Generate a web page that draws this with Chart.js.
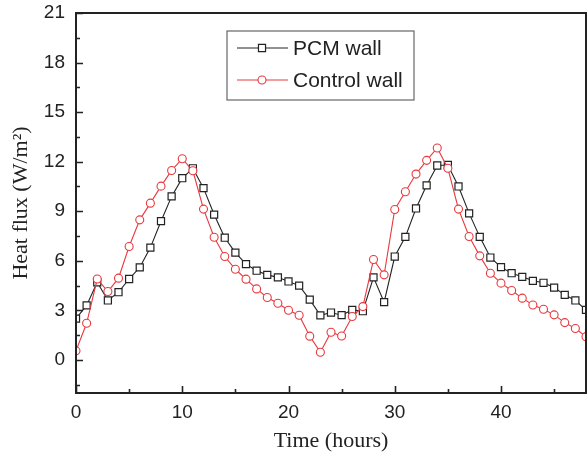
<!DOCTYPE html>
<html>
<head>
<meta charset="utf-8">
<script src="https://cdn.jsdelivr.net/npm/chart.js@4/dist/chart.umd.min.js"></script>
<style>
  html, body { margin: 0; padding: 0; background: #fff; }
  #wrap { width: 587px; height: 457px; }
</style>
</head>
<body>
<div id="wrap"><canvas id="c" width="587" height="457"></canvas></div>
<script>
// Hourly heat flux through the two test walls
const hours = [0, 1, 2, 3, 4, 5, 6, 7, 8, 9, 10, 11, 12, 13, 14, 15, 16, 17, 18, 19, 20,
  21, 22, 23, 24, 25, 26, 27, 28, 29, 30, 31, 32, 33, 34, 35, 36, 37, 38, 39, 40,
  41, 42, 43, 44, 45, 46, 47, 48];
const pcmWall = [2.5, 3.3, 4.7, 3.6, 4.1, 4.9, 5.6, 6.8, 8.4, 9.9, 11.0, 11.6, 10.4, 8.8,
  7.4, 6.5, 5.8, 5.4, 5.15, 5.0, 4.75, 4.5, 3.65, 2.7, 2.87, 2.71, 3.03, 2.95, 5.0, 3.5,
  6.26, 7.45, 9.17, 10.57, 11.77, 11.8, 10.5, 8.87, 7.45, 6.2, 5.62, 5.25, 5.03, 4.79,
  4.67, 4.38, 3.94, 3.6, 3.03];
const controlWall = [0.55, 2.22, 4.9, 4.14, 4.95, 6.87, 8.48, 9.49, 10.52, 11.47, 12.18,
  11.45, 9.13, 7.43, 6.26, 5.49, 4.89, 4.3, 3.78, 3.43, 3.01, 2.71, 1.44, 0.47, 1.68, 1.45,
  2.63, 3.23, 6.08, 5.15, 9.11, 10.18, 11.25, 12.08, 12.83, 11.6, 9.13, 7.47, 6.3, 5.25,
  4.65, 4.2, 3.74, 3.33, 3.07, 2.73, 2.26, 1.9, 1.41];

const xMajorTicks = [0, 10, 20, 30, 40];
const xMinorTicks = [5, 15, 25, 35, 45];
const yMajorTicks = [0, 3, 6, 9, 12, 15, 18, 21];
const yMinorTicks = [-1.5, 1.5, 4.5, 7.5, 10.5, 13.5, 16.5, 19.5];

const seriesNames = ['PCM wall', 'Control wall'];

const SANS = "'Liberation Sans', Arial, sans-serif";
const SERIF = "'Liberation Serif', 'Times New Roman', serif";
const INK = '#222';
const RED = '#e8383d';

const toPoints = (ys) => hours.map((h, i) => ({ x: h, y: ys[i] }));

// Closed frame with inward major/minor tick marks
const framePlugin = {
  id: 'frame',
  afterDraw(chart) {
    const { ctx, chartArea: a, scales: { x, y } } = chart;
    ctx.save();
    ctx.strokeStyle = INK;
    ctx.lineWidth = 1.6;
    ctx.beginPath();
    const tick = (vals, len, horizontal) => {
      vals.forEach(v => {
        if (horizontal) {
          const px = Math.round(x.getPixelForValue(v)) + 0.5;
          ctx.moveTo(px, a.bottom); ctx.lineTo(px, a.bottom - len);
        } else {
          const py = Math.round(y.getPixelForValue(v)) + 0.5;
          ctx.moveTo(a.left, py); ctx.lineTo(a.left + len, py);
        }
      });
    };
    tick(xMajorTicks, 7, true);
    tick(xMinorTicks, 4, true);
    tick(yMajorTicks, 7, false);
    tick(yMinorTicks, 4, false);
    ctx.stroke();
    ctx.lineWidth = 2;
    ctx.strokeRect(a.left, a.top, a.right - a.left, a.bottom - a.top);
    ctx.restore();
  }
};

// Boxed legend placed inside the plot
const legendPlugin = {
  id: 'boxLegend',
  afterDraw(chart) {
    const { ctx } = chart;
    const box = { x: 227, y: 31, w: 187, h: 69 };
    ctx.save();
    ctx.strokeStyle = '#666';
    ctx.lineWidth = 1.2;
    ctx.strokeRect(box.x, box.y, box.w, box.h);
    const rows = [48, 80];
    chart.data.datasets.forEach((ds, i) => {
      const yy = rows[i];
      ctx.strokeStyle = ds.borderColor;
      ctx.lineWidth = 1;
      ctx.beginPath();
      ctx.moveTo(237, yy); ctx.lineTo(288, yy);
      ctx.stroke();
      ctx.fillStyle = '#fff';
      ctx.lineWidth = ds.pointBorderWidth;
      Chart.helpers.drawPoint(ctx, {
        pointStyle: ds.pointStyle, radius: ds.pointRadius, borderWidth: ds.pointBorderWidth
      }, 262, yy);
      ctx.fillStyle = INK;
      ctx.font = `21px ${SANS}`;
      ctx.textBaseline = 'middle';
      ctx.textAlign = 'left';
      ctx.fillText(ds.label, 293, yy + 1);
    });
    ctx.restore();
  }
};

new Chart(document.getElementById('c'), {
  type: 'line',
  data: {
    datasets: [
      {
        label: seriesNames[0],
        data: toPoints(pcmWall),
        borderColor: INK,
        borderWidth: 1.1,
        pointStyle: 'rect',
        pointRadius: 5,
        pointBorderWidth: 1.2,
        pointBackgroundColor: '#fff',
        pointBorderColor: INK,
        order: 1
      },
      {
        label: seriesNames[1],
        data: toPoints(controlWall),
        borderColor: RED,
        borderWidth: 1.1,
        pointStyle: 'circle',
        pointRadius: 4,
        pointBorderWidth: 1.1,
        pointBackgroundColor: '#fff',
        pointBorderColor: RED,
        order: 0
      }
    ]
  },
  options: {
    responsive: false,
    animation: false,
    devicePixelRatio: 1,
    layout: { autoPadding: false, padding: { left: 0, right: 1, top: 13, bottom: 0 } },
    plugins: { legend: { display: false }, tooltip: { enabled: false } },
    scales: {
      x: {
        type: 'linear',
        min: 0,
        max: 48,
        afterBuildTicks: (s) => { s.ticks = xMajorTicks.map(v => ({ value: v })); },
        afterFit: (s) => { s.height = 64; s.paddingLeft = 0; s.paddingRight = 0; },
        grid: { display: false, drawTicks: false },
        border: { display: false },
        ticks: { color: INK, padding: 8, maxRotation: 0, font: { family: SANS, size: 19 } },
        title: {
          display: true, text: 'Time (hours)', color: INK,
          font: { family: SERIF, size: 22 }, padding: { top: 0, bottom: 3 }
        }
      },
      y: {
        type: 'linear',
        min: -2,
        max: 21,
        afterBuildTicks: (s) => { s.ticks = yMajorTicks.map(v => ({ value: v })); },
        afterFit: (s) => { s.width = 76; s.paddingTop = 0; s.paddingBottom = 0; },
        grid: { display: false, drawTicks: false },
        border: { display: false },
        ticks: { color: INK, padding: 11, font: { family: SANS, size: 19 } },
        title: {
          display: true, text: 'Heat flux (W/m²)', color: INK,
          font: { family: SERIF, size: 22 }, padding: { top: 8, bottom: 0 }
        }
      }
    }
  },
  plugins: [framePlugin, legendPlugin]
});
</script>
</body>
</html>
